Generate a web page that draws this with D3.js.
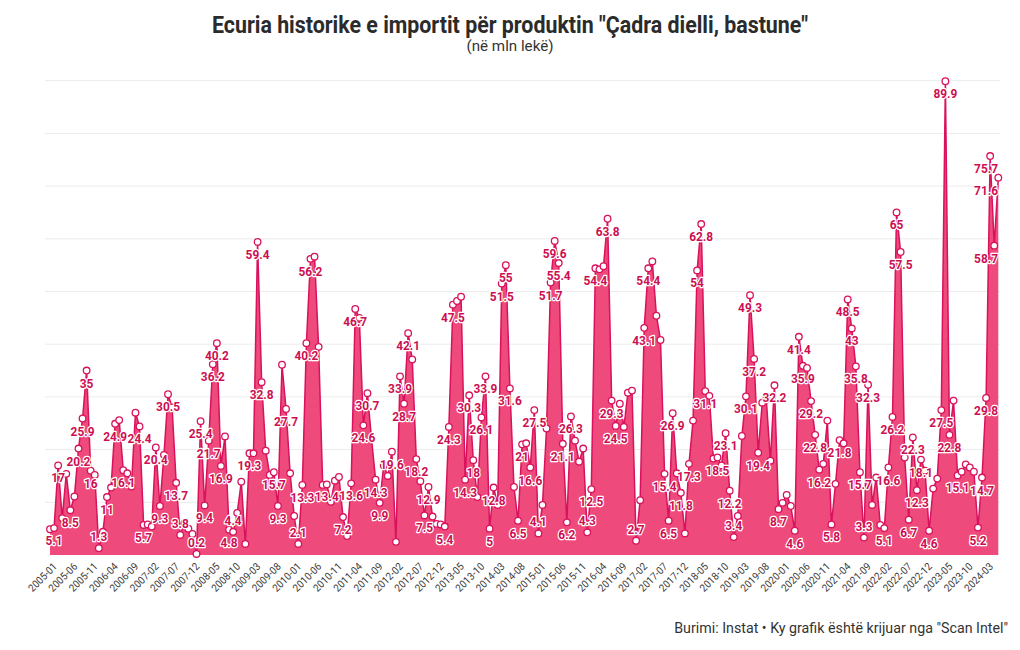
<!DOCTYPE html>
<html><head><meta charset="utf-8">
<script src="https://cdn.jsdelivr.net/npm/d3@7"></script>
<style>
body{margin:0;background:#fff;}
svg text{font-family:Roboto,"Noto Sans",sans-serif;}
</style></head><body>
<svg id="c" width="1020" height="650"></svg>
<script>
const titleText = 'Ecuria historike e importit për produktin "Çadra dielli, bastune"';
const subtitleText = '(në mln lekë)';
const sourceText = 'Burimi: Instat • Ky grafik është krijuar nga "Scan Intel"';

const firstMonth = "2005-01";
const values = [
 4.9,5.1,17,7,15.4,8.5,11.1,20.2,25.9,35,16,15.2,
 1.3,4.4,11,12.8,24.9,25.6,16.1,15.5,13,27,24.4,5.7,
 5.8,5.4,20.4,9.3,19,30.5,28,13.7,3.8,6,5,4,
 0.2,25.4,9.4,21.7,36.2,40.2,16.9,22.5,4.8,4.4,8,13.9,
 2.1,19.3,19.3,59.4,32.8,19.8,15.2,15.7,9.3,36.1,27.7,15.5,
 7.4,2.1,13.3,40.2,56.2,56.6,39.5,13.3,13.4,10.1,14.1,14.8,
 7.2,3.6,13.6,46.7,45,24.6,30.7,22,14.3,9.9,17,15,
 19.6,2.5,33.9,28.7,42.1,37.1,18.2,14,7.5,12.9,7.3,5.9,
 5.8,5.4,24.3,47.5,48.2,49,14.3,30.3,18,11,26.1,33.9,
 5,12.8,9.5,51.5,55,31.6,12.9,6.5,21,21.2,16.6,27.5,
 4.1,9.5,24,51.7,59.6,55.4,21.1,6.2,26.3,21.7,17.7,20.2,
 4.3,12.5,54.4,54.2,54.8,63.8,29.3,24.5,28.7,24.3,30.8,31.2,
 2.7,10.4,43.1,54.4,55.7,45.4,40.8,15.4,6.5,26.9,15.5,11.8,
 4.1,17.3,25.5,54,62.8,31.1,30.2,18.3,18.5,17,23.1,12.2,
 3.4,7.4,22.6,30.1,49.3,37.2,19.4,28.9,29.5,17.9,32.2,8.7,
 9.9,11.4,9.3,4.6,41.4,35.9,35.5,29.2,22.8,16.2,17.3,25.5,
 5.8,13.5,21.8,21.2,48.5,43,35.8,15.7,3.3,32.3,9.5,14.7,
 5.7,5.1,16.6,26.2,65,57.5,18.5,6.7,22.3,12.3,18.1,16,
 4.6,12.6,14.5,27.5,89.9,22.8,29.3,15.1,15.8,17.2,16.6,15.8,
 5.2,14.7,29.8,75.7,58.7,71.6
];
const labeledIdx = [1,2,5,7,8,9,10,12,14,16,18,22,23,26,27,29,31,32,36,37,38,39,40,41,42,44,45,
 49,51,52,55,56,58,61,62,63,64,68,72,74,75,77,78,80,81,84,86,87,88,90,92,93,97,98,99,
 102,103,104,106,107,108,109,111,112,113,115,116,118,119,120,123,124,125,126,127,128,132,133,134,
 137,138,139,144,146,147,151,152,153,155,157,159,160,161,164,166,167,168,171,172,173,174,178,179,
 183,184,185,187,188,189,192,194,196,197,198,199,200,201,205,206,207,208,209,211,212,213,214,216,
 219,220,221,223,228,229,230,231,232,233];
const tickLabels = ["2005-01","2005-06","2005-11","2006-04","2006-09","2007-02","2007-07","2007-12",
 "2008-05","2008-10","2009-03","2009-08","2010-01","2010-06","2010-11","2011-04","2011-09","2012-02",
 "2012-07","2012-12","2013-05","2013-10","2014-03","2014-08","2015-01","2015-06","2015-11","2016-04",
 "2016-09","2017-02","2017-07","2017-12","2018-05","2018-10","2019-03","2019-08","2020-01","2020-06",
 "2020-11","2021-04","2021-09","2022-02","2022-07","2022-12","2023-05","2023-10","2024-03"];
const gridTicks = [10,20,30,40,50,60,70,80,90];

const fmtM = d3.timeFormat("%Y-%m");
const start = d3.timeParse("%Y-%m")(firstMonth);
const months = values.map((v,i)=>fmtM(d3.timeMonth.offset(start,i)));
const data = values.map((v,i)=>({m:months[i], v, i}));

const svg = d3.select("#c");
const x = d3.scalePoint().domain(months).range([50, 998.3]);
const y = d3.scaleLinear().domain([0,90]).range([555, 80.7]);

const LINE = "#d8125c", FILL = "#ee4a7c", LAB = "#cc0f52";

function condense(sel, k){
  sel.each(function(){
    const l = this.getComputedTextLength();
    d3.select(this).attr("textLength", l*k).attr("lengthAdjust","spacingAndGlyphs");
  });
}

// grid
svg.append("g").selectAll("line").data(gridTicks).join("line")
  .attr("x1",45).attr("x2",1000).attr("y1",d=>y(d)).attr("y2",d=>y(d))
  .attr("stroke","#ececec").attr("stroke-width",1);

// area + line
svg.append("path").datum(data)
  .attr("d", d3.area().x(d=>x(d.m)).y0(y(0)).y1(d=>y(d.v)))
  .attr("fill",FILL);
svg.append("path").datum(data)
  .attr("d", d3.line().x(d=>x(d.m)).y(d=>y(d.v)))
  .attr("fill","none").attr("stroke",LINE).attr("stroke-width",1.5).attr("stroke-linejoin","round");

// points
svg.append("g").selectAll("circle").data(data).join("circle")
  .attr("cx",d=>x(d.m)).attr("cy",d=>y(d.v)).attr("r",3.3)
  .attr("fill","#fff").attr("stroke",LINE).attr("stroke-width",1.3);

// labels
const labSet = new Set(labeledIdx);
const labs = svg.append("g").selectAll("text").data(data.filter(d=>labSet.has(d.i))).join("text")
  .attr("x",d=>x(d.m)).attr("y",d=>y(d.v) + (d.v<4.5 ? -12 : 12))
  .attr("text-anchor","middle").attr("dominant-baseline","central")
  .attr("font-size",13.5).attr("font-weight",700)
  .attr("fill",LAB).attr("stroke","#fff").attr("stroke-width",2.6).attr("paint-order","stroke")
  .attr("stroke-linejoin","round")
  .text(d=>String(d.v));
condense(labs, 0.88);
// keep labels inside the plot's right edge
labs.each(function(d){
  const w = +d3.select(this).attr("textLength");
  const cx = x(d.m);
  if (cx + w/2 > 998) d3.select(this).attr("x", 998 - w/2);
});

// x axis
const ax = svg.append("g").attr("transform","translate(0,560)")
  .call(d3.axisBottom(x).tickValues(tickLabels).tickSize(0).tickPadding(0));
ax.select(".domain").remove();
ax.selectAll("text").attr("font-size",10.5).attr("fill","#3a3a3a")
  .attr("text-anchor","end").attr("dy","0.7em").attr("dx","0")
  .attr("transform","translate(2,2) rotate(-45)")
  .style("font-family","Roboto, sans-serif");
condense(ax.selectAll("text"), 0.93);

function fit(sel, w){
  sel.attr("textLength", w).attr("lengthAdjust","spacingAndGlyphs");
}
function fitSize(sel, w){
  const l = sel.node().getComputedTextLength();
  sel.attr("font-size", parseFloat(sel.attr("font-size")) * w / l);
}
const t = svg.append("text").attr("x",510).attr("y",33).attr("text-anchor","middle")
  .attr("font-size",24).attr("font-weight",700).attr("fill","#2b2b2b").text(titleText);
fit(t,596);
const st = svg.append("text").attr("x",510).attr("y",51).attr("text-anchor","middle")
  .attr("font-size",15).attr("fill","#333").text(subtitleText);
fit(st,87);
const so = svg.append("text").attr("x",1008).attr("y",633).attr("text-anchor","end")
  .attr("font-size",14).attr("fill","#333").text(sourceText);
fitSize(so,334);
</script>
</body></html>
